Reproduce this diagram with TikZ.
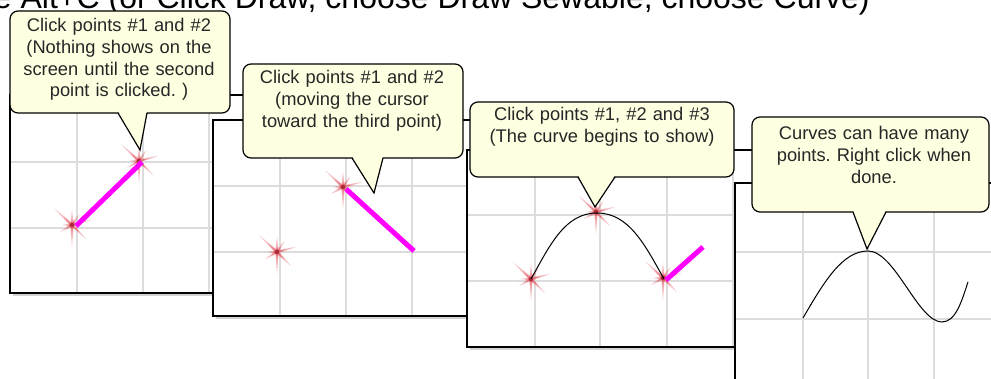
\documentclass[tikz,border=0pt]{standalone}
\usepackage{fontspec}
\setmainfont{Liberation Sans}
\usetikzlibrary{shadows}
\frenchspacing

\definecolor{cream}{HTML}{FFFFE1}
\definecolor{gridgray}{HTML}{DCDCDC}
\definecolor{penpink}{HTML}{FF00FF}
\definecolor{sparkred}{HTML}{E0303C}
\definecolor{sparkdark}{HTML}{A02838}

\tikzset{
  panel/.style={draw=black, line width=1.5pt, fill=white,
    drop shadow={shadow xshift=3pt, shadow yshift=-3pt, opacity=0.35}},
  gridline/.style={draw=gridgray, line width=1.2pt},
  pen/.style={draw=penpink, line width=5pt},
  curveline/.style={draw=black, line width=1pt},
  bubble/.style={draw=black, line width=1.2pt, fill=cream, rounded corners=8pt},
  pointer/.style={draw=black, line width=1.2pt, line join=miter},
  note/.style={text width=236pt, align=center, inner sep=0pt, text=black!85,
    font=\fontsize{18.3}{21.6}\selectfont},
}

% red sparkle of a clicked point
\newcommand{\spark}[2]{%
  \foreach \a/\l in {137/24, 15/20, 270/22, -45/20, 210/14, 56/13, 90/15, 180/10}{
    \begin{scope}[shift={(#1,#2)}, rotate=\a]
      \fill[sparkred, opacity=0.3] (0,-1.8) -- (\l,0) -- (0,1.8) -- cycle;
      \fill[sparkred, opacity=0.45] (0,-1.2) -- ({0.5*\l},0) -- (0,1.2) -- cycle;
    \end{scope}
  }
  \fill[sparkdark, opacity=0.85] (#1,#2) circle (2.2);
}

\begin{document}
\begin{tikzpicture}[x=1pt, y=-1pt]

\useasboundingbox (0,0) rectangle (991,379);
\clip (0,0) rectangle (991,379);

\node[anchor=base east, inner sep=0pt, font=\fontsize{32}{32}\selectfont] (title)
  at (870,9) {e Alt+C (or Click Draw, choose Draw Sewable, choose Curve)};

% panel 1
\draw[panel] (10,95) rectangle (250,293);
\foreach \gx in {77,143,209} \draw[gridline] (\gx,96) -- (\gx,292);
\foreach \gy in {162,228} \draw[gridline] (11,\gy) -- (249,\gy);
\spark{72}{225}
\spark{139}{161}
\draw[pen] (76,226) -- (142,162);

% panel 2
\draw[panel] (213,120) rectangle (480,316);
\foreach \gx in {280,346,412} \draw[gridline] (\gx,121) -- (\gx,315);
\foreach \gy in {186,252} \draw[gridline] (214,\gy) -- (479,\gy);
\spark{277}{252}
\spark{343}{187}
\draw[pen] (346,189) -- (414,251);

% panel 3
\draw[panel] (467,150) rectangle (760,347);
\foreach \gx in {535,600,667,733} \draw[gridline] (\gx,151) -- (\gx,346);
\foreach \gy in {215,281} \draw[gridline] (468,\gy) -- (759,\gy);
\spark{531}{279}
\spark{596}{212}
\spark{663}{278}
\draw[curveline] (531,279) .. controls (550,245) and (565,213) .. (597,213)
  .. controls (629,213) and (645,245) .. (664,279);
\draw[pen] (666,280) -- (703,247);

% panel 4
\draw[panel] (735,183) rectangle (1010,400);
\foreach \gx in {803,868,934} \draw[gridline] (\gx,184) -- (\gx,379);
\foreach \gy in {252,319} \draw[gridline] (736,\gy) -- (991,\gy);
\draw[curveline] (803,318) .. controls (825,280) and (843,251) .. (868,251)
  .. controls (895,251) and (918,322) .. (942,322)
  .. controls (956,322) and (962,300) .. (968,282);

% callouts
\draw[bubble] (10,11) rectangle (230,113);
\coordinate (tipA) at (140,150);
\fill[cream] (118,111) -- (tipA) -- (147,111) -- cycle;
\draw[pointer] (118,113) -- (tipA) -- (147,113);
\node[note, anchor=base] (noteA) at (119,32)
  {Click points \#1 and \#2\\(Nothing shows on the\\screen until the second\\point is clicked. )};

\draw[bubble] (243,64) rectangle (463,158);
\coordinate (tipB) at (374,193);
\fill[cream] (352,156) -- (tipB) -- (383,156) -- cycle;
\draw[pointer] (352,158) -- (tipB) -- (383,158);
\node[note, anchor=base] (noteB) at (352,84)
  {Click points \#1 and \#2\\(moving the cursor\\toward the third point)};

\draw[bubble] (470,102) rectangle (734,177);
\coordinate (tipC) at (595,207);
\fill[cream] (578,175) -- (tipC) -- (615,175) -- cycle;
\draw[pointer] (578,177) -- (tipC) -- (615,177);
\node[note, anchor=base] (noteC) at (602,121)
  {Click points \#1, \#2 and \#3\\(The curve begins to show)};

\draw[bubble] (752,117) rectangle (989,212);
\coordinate (tipD) at (867,249);
\fill[cream] (853,210) -- (tipD) -- (886,210) -- cycle;
\draw[pointer] (853,212) -- (tipD) -- (886,212);
\node[note, anchor=base] (noteD) at (874,140)
  {Curves can have many\\points. Right click when\\done.};

\end{tikzpicture}
\end{document}
